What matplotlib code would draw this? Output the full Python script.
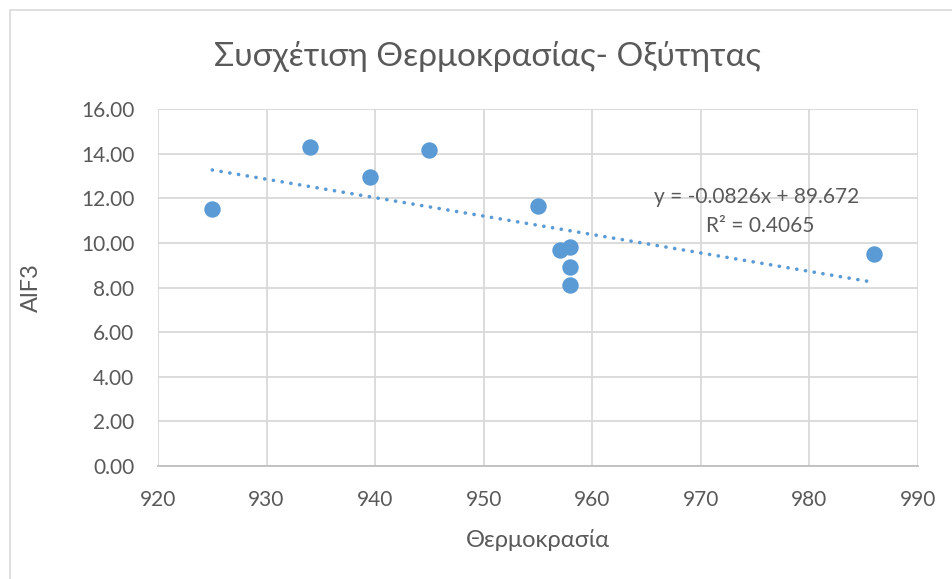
import matplotlib.pyplot as plt
import matplotlib.patches as mpatches
import numpy as np

plt.rcParams['font.family'] = ['Lato', 'DejaVu Sans']

# data
temperature = [925, 934, 939.5, 945, 955, 957, 958, 958, 958, 986]
alf3 = [11.5, 14.3, 12.95, 14.15, 11.65, 9.7, 9.8, 8.9, 8.1, 9.5]

# trendline as printed on the chart
slope = -0.0826
intercept = 89.672
r2 = 0.4065

blue = '#5b9bd5'
grey_text = '#595959'
grid_col = '#d9d9d9'

fig = plt.figure(figsize=(9.52, 5.79), dpi=100)
fig.patches.append(mpatches.Rectangle((10 / 952, -0.01), 1.0, 1 - 10 / 579 + 0.01,
                                      transform=fig.transFigure, fill=False,
                                      edgecolor='#d9d9d9', linewidth=1.2))

ax = fig.add_axes([0.166, 0.1952, 0.798, 0.6165])

xt = np.array([min(temperature), max(temperature)])
ax.plot(xt, slope * xt + intercept, color=blue, linewidth=2.6,
        linestyle=(0, (0.05, 2.4)), dash_capstyle='round', zorder=3)
ax.scatter(temperature, alf3, s=140, color=blue, zorder=4, linewidths=0)

ax.set_xlim(920, 990)
ax.set_ylim(0, 16)
ax.set_xticks(np.arange(920, 991, 10))
ax.set_yticks(np.arange(0, 16.1, 2))
ax.yaxis.set_major_formatter(plt.FuncFormatter(lambda v, p: '{:.2f}'.format(v)))
ax.grid(True, color=grid_col, linewidth=1.3, zorder=0)
ax.set_axisbelow(True)
for s in ['top', 'right', 'left']:
    ax.spines[s].set_visible(False)
ax.spines['bottom'].set_color('#bfbfbf')
ax.spines['bottom'].set_linewidth(1.3)
ax.tick_params(length=0, labelsize=15, labelcolor=grey_text)
ax.tick_params(axis='x', pad=17)
ax.tick_params(axis='y', pad=17)

fig.text(487 / 952, 1 - 57 / 579, 'Συσχέτιση Θερμοκρασίας- Οξύτητας', fontsize=24,
         color=grey_text, ha='center', va='center')
ax.set_xlabel('Θερμοκρασία', fontsize=17, color=grey_text, labelpad=14)
ax.set_ylabel('AlF3', fontsize=17, color=grey_text, labelpad=28)

ax.text(975.2, 12.06, 'y = {}x + {}'.format(slope, intercept), fontsize=15,
        color=grey_text, ha='center', va='center')
ax.text(975.5, 10.76, 'R² = {}'.format(r2), fontsize=15,
        color=grey_text, ha='center', va='center')

fig.savefig('out.png', dpi=100)
